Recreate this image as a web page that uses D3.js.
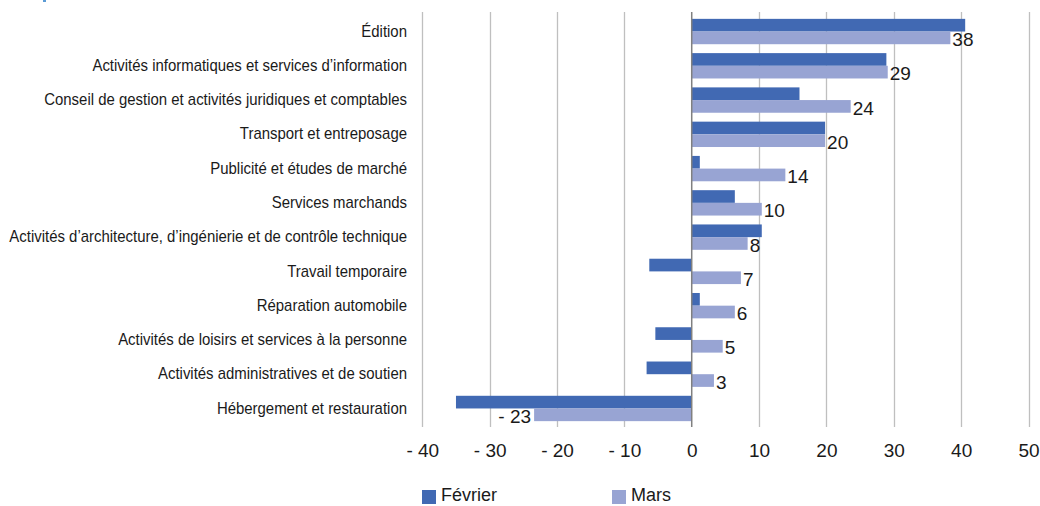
<!DOCTYPE html>
<html><head><meta charset="utf-8">
<script src="https://cdn.jsdelivr.net/npm/d3@7"></script>
<style>
body{margin:0;background:#fff;}
svg text{font-family:"Liberation Sans",Arial,sans-serif;fill:#1a1a1a;}
</style></head>
<body><svg id="c" width="1040" height="506"></svg>
<script>
const categories = [
 "Édition",
 "Activités informatiques et services d’information",
 "Conseil de gestion et activités juridiques et comptables",
 "Transport et entreposage",
 "Publicité et études de marché",
 "Services marchands",
 "Activités d’architecture, d’ingénierie et de contrôle technique",
 "Travail temporaire",
 "Réparation automobile",
 "Activités de loisirs et services à la personne",
 "Activités administratives et de soutien",
 "Hébergement et restauration"
];
const fevrier = [40.6, 28.9, 16.0, 19.8, 1.2, 6.4, 10.4, -6.3, 1.2, -5.4, -6.7, -35.0];
const mars    = [38.4, 29.1, 23.6, 19.8, 13.9, 10.4, 8.3, 7.3, 6.4, 4.6, 3.3, -23.4];
const marsLabels = ["38","29","24","20","14","10","8","7","6","5","3","- 23"];
const tickValues = [-40,-30,-20,-10,0,10,20,30,40,50];
const seriesNames = ["Février","Mars"];
const colors = ["#4169b3","#98a4d3"];

const svg = d3.select("#c");
const x = d3.scaleLinear().domain([-40,50]).range([422.3,1028.5]);
const y = d3.scaleBand().domain(categories).range([14.4,425.6]).paddingInner(0.26).paddingOuter(0.13);
const sub = d3.scaleBand().domain(seriesNames).range([0,y.bandwidth()]);

// gridlines
svg.append("g").selectAll("line").data(tickValues.filter(d=>d!==0)).join("line")
  .attr("x1",d=>Math.round(x(d))+0.5).attr("x2",d=>Math.round(x(d))+0.5)
  .attr("y1",12).attr("y2",427).attr("stroke","#bfbfbf").attr("stroke-width",1.3);

// bars
const series = [fevrier, mars];
series.forEach((vals,si)=>{
  svg.append("g").selectAll("rect").data(vals).join("rect")
    .attr("x",d=>x(Math.min(0,d)))
    .attr("width",d=>Math.abs(x(d)-x(0)))
    .attr("y",(d,i)=>y(categories[i])+sub(seriesNames[si]))
    .attr("height",sub.bandwidth())
    .attr("fill",colors[si]);
});

// zero line
svg.append("line").attr("x1",x(0)).attr("x2",x(0)).attr("y1",12).attr("y2",427)
  .attr("stroke","#808080").attr("stroke-width",1.5);

// category labels (condensed like Arial Narrow)
const cl = svg.append("g").selectAll("text").data(categories).join("text")
  .attr("text-anchor","end").attr("dy","0.35em").style("font-size","16px").text(d=>d);
let maxW = 0;
cl.each(function(){ maxW = Math.max(maxW, this.getComputedTextLength()); });
const k = Math.min(1, 398/maxW);
cl.attr("transform",d=>`translate(407,${y(d)+y.bandwidth()/2-0.5}) scale(${k},1)`);

// value labels for Mars
svg.append("g").selectAll("text").data(mars).join("text")
  .attr("x",d=>d>=0? x(d)+2 : x(d)-3)
  .attr("text-anchor",d=>d>=0?"start":"end")
  .attr("y",(d,i)=>y(categories[i])+sub("Mars")+sub.bandwidth()/2+1.5).attr("dy","0.35em")
  .style("font-size","19px").text((d,i)=>marsLabels[i]);

// axis
const axis = d3.axisBottom(x).tickValues(tickValues).tickSize(0).tickPadding(0)
  .tickFormat(d=> d<0 ? "- "+Math.abs(d) : String(d));
const ag = svg.append("g").attr("transform","translate(0,443)").call(axis);
ag.select(".domain").remove();
ag.selectAll("text").style("font-size","19px").attr("fill","#1a1a1a")
  .style("font-family",'"Liberation Sans",Arial,sans-serif');

// legend
const lg = svg.append("g");
const lx = [422, 612];
seriesNames.forEach((n,i)=>{
  lg.append("rect").attr("x",lx[i]).attr("y",490).attr("width",14).attr("height",14).attr("fill",colors[i]);
  lg.append("text").attr("x",lx[i]+19).attr("y",494.5).attr("dy","0.35em").style("font-size","18px").text(n);
});

// small mark at top left
svg.append("rect").attr("x",43).attr("y",0).attr("width",3).attr("height",2).attr("fill","#5b9bd5");
</script></body></html>
